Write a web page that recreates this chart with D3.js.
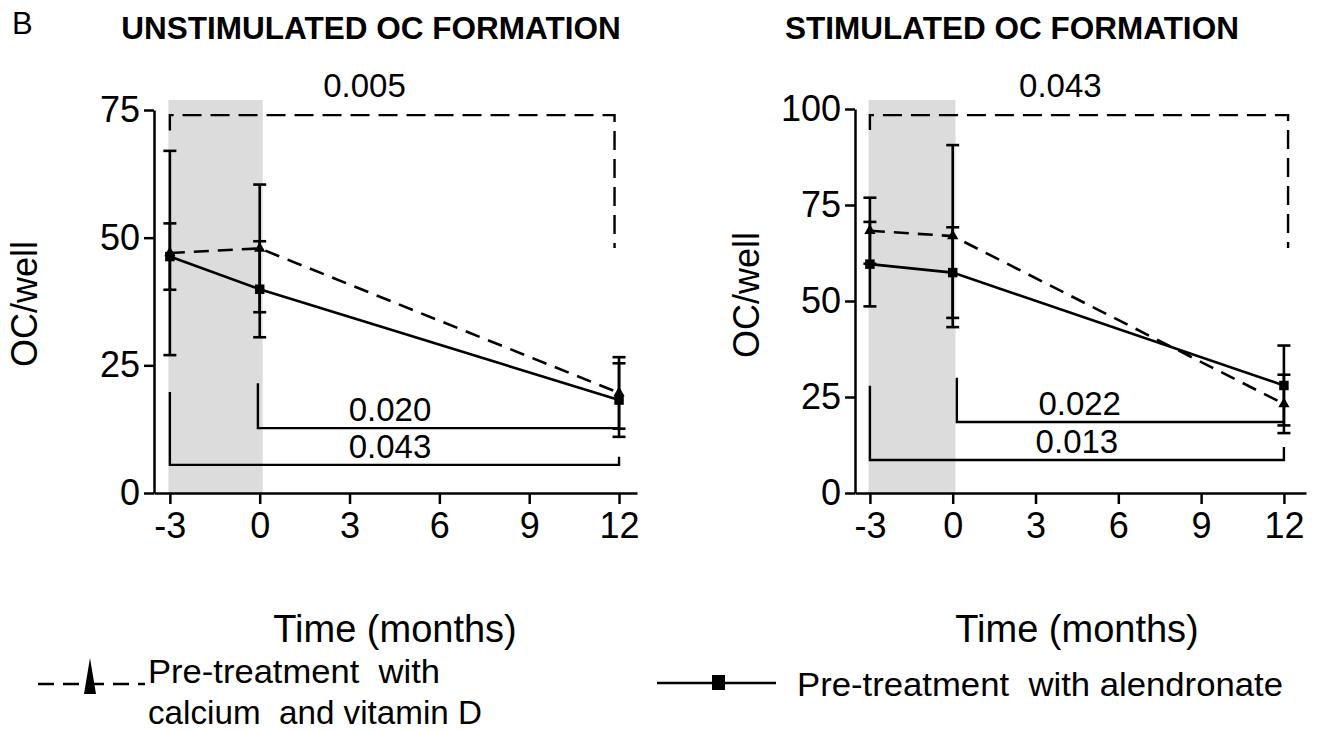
<!DOCTYPE html>
<html>
<head>
<meta charset="utf-8">
<script src="https://cdn.jsdelivr.net/npm/d3@7"></script>
<style>
  body { margin: 0; background: #fff; }
  text { font-family: "Liberation Sans", Arial, sans-serif; fill: #000; white-space: pre; }
</style>
</head>
<body>
<svg id="chart" width="1322" height="731"></svg>
<script>
// ---- data ----
var months = [-3, 0, 12];
var xTicks = [-3, 0, 3, 6, 9, 12];

var unstimCaD = [47.0, 47.9, 19.6];
var unstimCaDErr = [20.0, 12.5, 7.0];
var unstimAln = [46.3, 39.9, 18.2];
var unstimAlnErr = [6.5, 9.4, 7.2];
var unstimYTicks = [0, 25, 50, 75];

var stimCaD = [68.3, 66.9, 23.2];
var stimCaDErr = [8.6, 23.7, 7.6];
var stimAln = [59.6, 57.4, 28.0];
var stimAlnErr = [11.0, 11.8, 10.4];
var stimYTicks = [0, 25, 50, 75, 100];

// brackets: [x1, x2, yLine, yLeftEnd, yRightEnd, label, labelX, dashed]
var unstimBrackets = [
    [-3, 11.85, 74, 71, 48, '0.005', 3.5, true],
    [-0.06, 12, 12.7, 21.5, 12.7, '0.020', 4.35, false],
    [-3, 12, 5.5, 19.8, 7.1, '0.043', 4.35, false]
];
var stimBrackets = [
    [-3, 12.15, 98.4, 94.5, 63.8, '0.043', 3.9, true],
    [0.15, 12, 18.5, 30, 18.5, '0.022', 4.6, false],
    [-3, 12, 8.6, 27.9, 12, '0.013', 4.5, false]
];

var svg = d3.select('#chart');

svg.append('text').attr('x', 12).attr('y', 34).attr('font-size', 31).text('B');

function panel(opt) {
    var x = d3.scaleLinear().domain(opt.xDomain).range(opt.xRange);
    var y = d3.scaleLinear().domain(opt.yDomain).range([493, opt.yTop]);
    var g = svg.append('g');

    // shaded pre-treatment period
    g.append('rect')
        .attr('x', x(-3.05))
        .attr('width', x(0.1) - x(-3.05))
        .attr('y', 100)
        .attr('height', 493 - 100)
        .attr('fill', '#dcdcdc');

    // axes
    var fmt = function (d) { return String(d); };
    var yAxis = g.append('g')
        .attr('transform', 'translate(' + opt.xRange[0] + ',0)')
        .call(d3.axisLeft(y).tickValues(opt.yTicks).tickFormat(fmt).tickSize(10).tickSizeOuter(0).tickPadding(4));
    var xAxis = g.append('g')
        .attr('transform', 'translate(0,493)')
        .call(d3.axisBottom(x).tickValues(xTicks).tickFormat(fmt).tickSize(11).tickSizeOuter(0).tickPadding(8));
    [yAxis, xAxis].forEach(function (a) {
        a.selectAll('path, line').attr('stroke', '#000').attr('stroke-width', 2.5);
        a.selectAll('text').attr('font-size', 36).attr('fill', '#000')
            .attr('font-family', '"Liberation Sans", Arial, sans-serif');
    });

    // titles
    g.append('text')
        .attr('x', opt.titleX).attr('y', 39)
        .attr('text-anchor', 'middle')
        .attr('font-size', 31.5).attr('font-weight', 'bold')
        .text(opt.title);
    g.append('text')
        .attr('transform', 'translate(' + opt.yLabelX + ',' + opt.yLabelY + ') rotate(-90)')
        .attr('text-anchor', 'middle')
        .attr('font-size', 36)
        .text('OC/well');
    g.append('text')
        .attr('x', opt.xLabelX).attr('y', 642)
        .attr('text-anchor', 'middle')
        .attr('font-size', 38)
        .text('Time (months)');

    // significance brackets
    opt.brackets.forEach(function (b) {
        var pts = [[x(b[0]), y(b[3])], [x(b[0]), y(b[2])], [x(b[1]), y(b[2])], [x(b[1]), y(b[4])]];
        g.append('path')
            .attr('d', d3.line()(pts))
            .attr('fill', 'none')
            .attr('stroke', '#000')
            .attr('stroke-width', 2.4)
            .attr('stroke-dasharray', b[7] ? '19,9' : null);
        g.append('text')
            .attr('x', x(b[6])).attr('y', y(b[2]) - (b[7] ? 18 : 7))
            .attr('text-anchor', 'middle')
            .attr('font-size', 33)
            .text(b[5]);
    });

    // series (calcium + vitamin D first so squares sit on top)
    var series = [
        { vals: opt.cad, err: opt.cadErr, dash: '15,9', mark: 'triangle' },
        { vals: opt.aln, err: opt.alnErr, dash: null, mark: 'square' }
    ];
    var line = d3.line().x(function (d) { return x(d[0]); }).y(function (d) { return y(d[1]); });

    series.forEach(function (s) {
        var pts = months.map(function (m, i) { return [m, s.vals[i], s.err[i]]; });
        // error bars
        var eb = g.append('g').selectAll('g').data(pts).enter().append('g');
        eb.append('line')
            .attr('x1', function (d) { return x(d[0]); })
            .attr('x2', function (d) { return x(d[0]); })
            .attr('y1', function (d) { return y(d[1] - d[2]); })
            .attr('y2', function (d) { return y(d[1] + d[2]); })
            .attr('stroke', '#000').attr('stroke-width', 2.6);
        [-1, 1].forEach(function (sg) {
            eb.append('line')
                .attr('x1', function (d) { return x(d[0]) - 6.5; })
                .attr('x2', function (d) { return x(d[0]) + 6.5; })
                .attr('y1', function (d) { return y(d[1] + sg * d[2]); })
                .attr('y2', function (d) { return y(d[1] + sg * d[2]); })
                .attr('stroke', '#000').attr('stroke-width', 2.6);
        });
        g.append('path')
            .attr('d', line(pts))
            .attr('fill', 'none')
            .attr('stroke', '#000')
            .attr('stroke-width', 2.6)
            .attr('stroke-dasharray', s.dash);
        var sym = s.mark === 'square' ? d3.symbolSquare : d3.symbolTriangle;
        g.append('g').selectAll('path').data(pts).enter().append('path')
            .attr('d', d3.symbol().type(sym).size(s.mark === 'square' ? 90 : 55))
            .attr('transform', function (d) { return 'translate(' + x(d[0]) + ',' + y(d[1]) + ')'; })
            .attr('fill', '#000');
    });
}

panel({
    xDomain: [-3.53, 12.6], xRange: [154, 637],
    yDomain: [0, 75], yTop: 110, yTicks: unstimYTicks,
    title: 'UNSTIMULATED OC FORMATION', titleX: 371,
    yLabelX: 37, yLabelY: 304, xLabelX: 395,
    cad: unstimCaD, cadErr: unstimCaDErr, aln: unstimAln, alnErr: unstimAlnErr,
    brackets: unstimBrackets
});
panel({
    xDomain: [-3.54, 12.8], xRange: [855, 1306],
    yDomain: [0, 100], yTop: 109, yTicks: stimYTicks,
    title: 'STIMULATED OC FORMATION', titleX: 1012,
    yLabelX: 759, yLabelY: 295, xLabelX: 1077,
    cad: stimCaD, cadErr: stimCaDErr, aln: stimAln, alnErr: stimAlnErr,
    brackets: stimBrackets
});

// legend
var lg = svg.append('g');
lg.append('line').attr('x1', 38).attr('x2', 145).attr('y1', 684).attr('y2', 684)
    .attr('stroke', '#000').attr('stroke-width', 2.6).attr('stroke-dasharray', '16,9');
lg.append('path').attr('d', 'M90,658 L96,694 L84,694 Z').attr('fill', '#000');
lg.append('text').attr('x', 148).attr('y', 683).attr('font-size', 34)
    .attr('textLength', 292).attr('lengthAdjust', 'spacingAndGlyphs')
    .text('Pre-treatment  with');
lg.append('text').attr('x', 148).attr('y', 724).attr('font-size', 34)
    .attr('textLength', 334).attr('lengthAdjust', 'spacingAndGlyphs')
    .text('calcium  and vitamin D');

lg.append('line').attr('x1', 657).attr('x2', 776).attr('y1', 683).attr('y2', 683)
    .attr('stroke', '#000').attr('stroke-width', 2.6);
lg.append('rect').attr('x', 712).attr('y', 675).attr('width', 13).attr('height', 15).attr('fill', '#000');
lg.append('text').attr('x', 797).attr('y', 696).attr('font-size', 34)
    .attr('textLength', 486).attr('lengthAdjust', 'spacingAndGlyphs')
    .text('Pre-treatment  with alendronate');
</script>
</body>
</html>
